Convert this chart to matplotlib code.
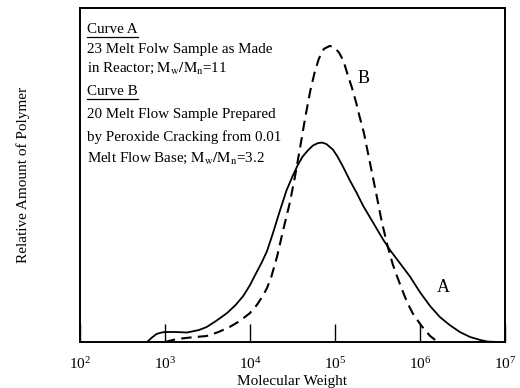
import numpy as np
import matplotlib
matplotlib.use('Agg')
import matplotlib.pyplot as plt

plt.rcParams['font.family'] = ['Liberation Serif', 'DejaVu Serif']
plt.rcParams['mathtext.fontset'] = 'stix'

# curve A: as made in reactor (log10 of molecular weight, relative amount)
logm_a = [2.79, 2.84, 2.90, 2.96, 3.00, 3.13, 3.26, 3.40, 3.49, 3.60, 3.73, 3.83,
          3.92, 4.00, 4.06, 4.14, 4.20, 4.27, 4.35, 4.43, 4.50, 4.56, 4.62, 4.68, 4.74,
          4.80, 4.85, 4.90, 4.976, 5.03, 5.094, 5.176, 5.259, 5.329, 5.447, 5.565,
          5.65, 5.729, 5.80, 5.88, 6.00, 6.12, 6.235, 6.35, 6.47, 6.59, 6.71, 6.79, 6.90]
amt_a = [0, 4, 8, 9.5, 10, 10, 9.5, 12, 15, 21, 29, 37,
         46, 57, 67, 80, 91, 109, 131, 152, 166, 177, 186, 192, 197,
         199.5, 200, 198.5, 193, 186, 176, 162, 149, 137, 120, 103,
         92, 83, 75, 66, 50, 36, 25, 17, 10, 5, 2, 0.5, 0]

# curve B: prepared by peroxide cracking
logm_b = [3.00, 3.07, 3.14, 3.30, 3.49, 3.63, 3.76, 3.88, 4.00, 4.08, 4.15, 4.20, 4.25,
          4.32, 4.39, 4.47, 4.53, 4.59, 4.65, 4.71, 4.76, 4.81, 4.87, 4.94, 5.00,
          5.05, 5.10, 5.15, 5.20, 5.25, 5.29, 5.34, 5.39, 5.44, 5.49, 5.55, 5.62,
          5.68, 5.73, 5.77, 5.82, 5.86, 5.92, 5.97, 6.02, 6.08, 6.12, 6.18, 6.24]
amt_b = [0, 1.5, 3, 4.5, 6, 10, 15, 21, 29, 37, 46, 54, 65,
         86, 112, 140, 166, 195, 225, 252, 270, 284, 294, 297, 295,
         290, 282, 268, 255, 240, 226, 210, 189, 168, 147, 121, 96,
         78, 66, 57, 46, 38, 28, 22, 16, 10, 6, 2, 0]

xticks = [1e2, 1e3, 1e4, 1e5, 1e6, 1e7]

fig = plt.figure(figsize=(5.2, 3.88), dpi=100)
ax = fig.add_axes([0.1538, 0.1186, 0.8172, 0.8608])

ax.plot(np.power(10.0, logm_a), amt_a, color='black', lw=1.3)
ax.plot(np.power(10.0, logm_b), amt_b, color='black', lw=1.5, dashes=(5, 3))

ax.set_xscale('log')
ax.set_xlim(1e2, 1e7)
ax.set_ylim(0, 335)
ax.set_xticks(xticks)
ax.minorticks_off()
ax.set_yticks([])
ax.tick_params(axis='x', direction='in', length=13, width=1.0, pad=10, labelsize=11)
for s in ax.spines.values():
    s.set_linewidth(1.4)

ax.set_xlabel('Molecular Weight', fontsize=11, labelpad=2)
ax.set_ylabel('Relative Amount of Polymer', fontsize=11, labelpad=36)

ax.text(10**4.99 * 1.9, 264, 'B', fontsize=13, va='center')
ax.text(10**6.2, 55, 'A', fontsize=13, va='center')

tx = 0.017
lines = [
    (0.937, 'Curve A', True),
    (0.877, '23 Melt Folw Sample as Made', False),
    (0.819, r'in Reactor; $\mathrm{M_w/M_n}$=11', False),
    (0.749, 'Curve B', True),
    (0.680, '20 Melt Flow Sample Prepared', False),
    (0.614, 'by Peroxide Cracking from 0.01', False),
    (0.549, r'Melt Flow Base; $\mathrm{M_w/M_n}$=3.2', False),
]
fig.canvas.draw()
renderer = fig.canvas.get_renderer()
inv = ax.transAxes.inverted()
for yy, t, under in lines:
    txt = ax.text(tx, yy, t, transform=ax.transAxes, fontsize=10.8, va='center')
    if under:
        bb = txt.get_window_extent(renderer)
        (x0, y0), (x1, y1) = inv.transform([(bb.x0, bb.y0 - 1), (bb.x1, bb.y0 - 1)])
        ax.plot([x0, x1], [y0, y1], transform=ax.transAxes, color='black', lw=0.9)

fig.savefig('out.png', dpi=100)
